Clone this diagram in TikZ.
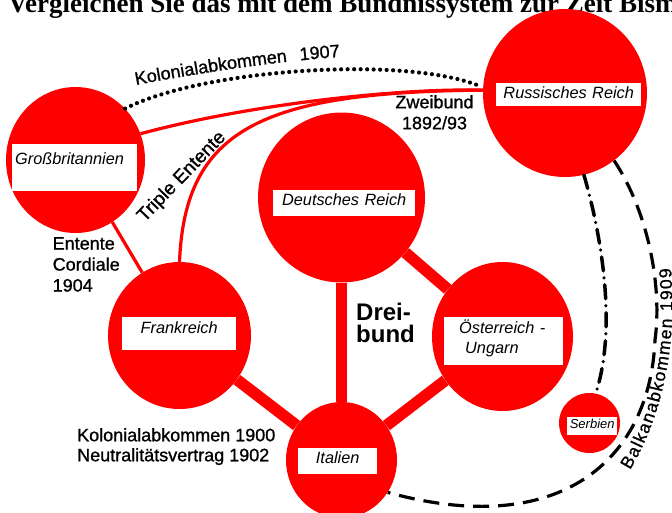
\documentclass[tikz,border=0pt]{standalone}
\usepackage{fontspec}
\setmainfont{Liberation Sans}
\newfontfamily\titlefont{Liberation Serif}
\newfontfamily\labfont[FakeBold=1]{Liberation Sans}
\usetikzlibrary{shapes.geometric, decorations.text}

\begin{document}
\begin{tikzpicture}[x=1pt,y=-1pt,
    land/.style={ellipse, fill=red, inner sep=0pt},
    namebox/.style={fill=white, inner xsep=3pt, inner ysep=0pt, anchor=north west, font=\fontsize{16.3}{20}\selectfont\itshape},
    bund/.style={red, line width=11.5pt},
    entente/.style={red, line width=3.2pt},
    lbl/.style={inner sep=0pt, align=left, font=\labfont\fontsize{18}{21}\selectfont}]
    \useasboundingbox (0,0) rectangle (672,512);
    \clip (0,0) rectangle (672,512);
    \node[anchor=base west, inner sep=0pt, font=\titlefont\bfseries\fontsize{27}{30}\selectfont] (title) at (8,12) {Vergleichen Sie das mit dem Bündnissystem zur Zeit Bismarcks};
    \foreach \n/\cx/\cy/\w/\h in {gb/75.5/160/139/146, rr/565/93/164/168, dr/341.5/197.5/167/170, fr/179.5/335.5/143/147, ou/502.5/336.5/141/149, it/341.5/460/111/116, se/589.5/423/61/60}{
        \node[land, minimum width=\w, minimum height=\h] (\n) at (\cx,\cy) {};
    }
    \foreach \a/\b in {dr/it, dr/ou, it/ou, fr/it}{
        \draw[bund] (\a) -- (\b);
    }
    \draw[entente] (gb) -- (fr);
    \draw[entente] (gb.22) .. controls (250,104) and (400,88) .. (rr.178);
    \draw[entente] (fr.90) .. controls (185,130) and (260,92) .. (rr.178);
    \draw[line width=4.2pt, line cap=round, dash pattern=on 0pt off 6.5pt, shorten >=5pt] (gb.46) .. controls (200,70) and (400,55) .. (rr.176);
    \draw[line width=3.5pt, line cap=round, dash pattern=on 14pt off 7pt on 0pt off 7pt] (rr.283) .. controls (600,230) and (618,325) .. (se.78);
    \draw[line width=3.2pt, dash pattern=on 16pt off 9pt] (rr.306) .. controls (650,215) and (662,290) .. (655,340) .. controls (650,460) and (560,540) .. (it.325);
    \node[namebox, text width=119pt, text height=20pt, text depth=27pt, align=left] (gbname) at (12,144) {Großbritannien};
    \node[namebox, text width=139pt, text height=15pt, text depth=8pt, align=center] (rrname) at (496,83) {Russisches Reich};
    \node[namebox, text width=136pt, text height=15pt, text depth=11pt, align=center] (drname) at (273,190) {Deutsches Reich};
    \node[namebox, text width=108pt, text height=16pt, text depth=17pt, align=center] (frname) at (122,317) {Frankreich};
    \node[namebox, text width=113pt, text height=16pt, text depth=32pt, align=left] (ouname) at (444,317) {\hspace*{12pt}Österreich -\\\hspace*{18pt}Ungarn};
    \node[namebox, text width=73pt, text height=15pt, text depth=11pt, align=center] (itname) at (298,448) {Italien};
    \node[namebox, inner xsep=1pt, text width=48pt, text height=11pt, text depth=7pt, align=center, font=\fontsize{13}{15}\selectfont\itshape] (sename) at (567,417) {Serbien};
    \path[decorate, decoration={text along path, text align=fit to path stretching spaces, text={|\labfont\fontsize{18}{18}\selectfont|Kolonialabkommen 1907}}] (136,85) .. controls (200,73) and (270,62) .. (340,57);
    \path[decorate, decoration={text along path, text align=fit to path, text={|\labfont\fontsize{17.5}{18}\selectfont|Balkanabkommen 1909}}] (630,470) .. controls (660,420) and (678,350) .. (671,268);
    \node[lbl, rotate=46, font=\labfont\fontsize{19}{21}\selectfont] (triple) at (182,177) {Triple Entente};
    \node[lbl, anchor=north west] (cordiale) at (52.5,237) {Entente\\Cordiale\\1904};
    \node[lbl, anchor=north west, font=\labfont\fontsize{18}{20}\selectfont] (kolonial) at (77,428) {Kolonialabkommen 1900\\Neutralitätsvertrag 1902};
    \node[lbl, anchor=north, align=center] (zweibund) at (434.5,95) {Zweibund\\1892/93};
    \node[lbl, anchor=north west, font=\bfseries\fontsize{24}{22}\selectfont] (dreibund) at (356,303) {Drei-\\bund};
\end{tikzpicture}
\end{document}
